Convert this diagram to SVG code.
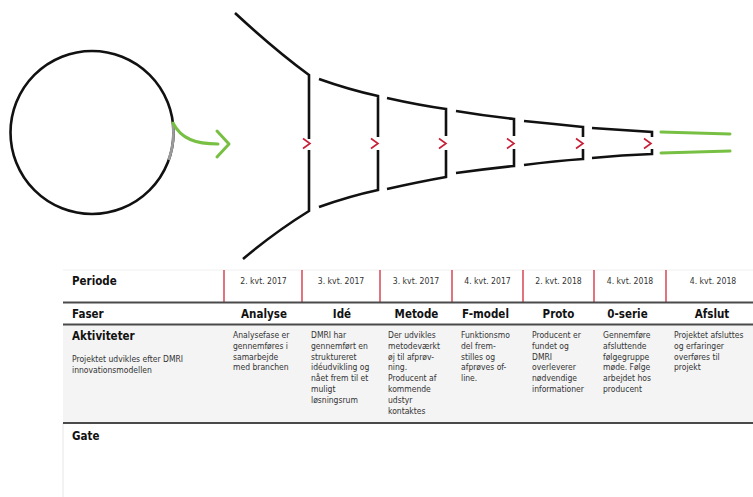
<svg xmlns="http://www.w3.org/2000/svg" width="753" height="497" viewBox="0 0 753 497">
<style>
.fn{fill:none;stroke:#111;stroke-width:2.6;stroke-linecap:butt;stroke-linejoin:miter}
.gr{fill:none;stroke:#77c043;stroke-width:3;stroke-linecap:round;stroke-linejoin:round}
.ch{fill:none;stroke:#c81e35;stroke-width:1.6}
.rl{stroke:#d0293a;stroke-width:1.3}
.sep{stroke:#4a4a4a;stroke-width:2}
.hd{font-family:"DejaVu Sans Condensed","DejaVu Sans",sans-serif;font-weight:bold;font-size:11.5px;fill:#111}
.ph{font-family:"DejaVu Sans Condensed","DejaVu Sans",sans-serif;font-weight:bold;font-size:11.5px;fill:#111;text-anchor:middle}
.pd{font-family:"DejaVu Sans Condensed","DejaVu Sans",sans-serif;font-size:8.6px;fill:#333;text-anchor:middle}
.tx{font-family:"DejaVu Sans Condensed","DejaVu Sans",sans-serif;font-size:8.5px;fill:#333}
</style>
<rect width="753" height="497" fill="#fff"/>

<g id="circle">
<circle cx="92" cy="132.5" r="81.5" fill="none" stroke="#111" stroke-width="2.6"/>
<path d="M172.9,123 A81.5,81.5 0 0 1 168.7,160" fill="none" stroke="#9a9a9a" stroke-width="2.8"/>
</g>

<g id="funnel">
<path class="fn" d="M235,13 Q275,50 309,75 L309,139 M309,150 L309,211 Q275,232 243,259"/>
<path class="fn" d="M319,79 Q350,90 378,96 L378,137 M378,150 L378,190 Q350,196 319,207"/>
<path class="fn" d="M387,98 Q418,105 446,109 L446,136 M446,150 L446,177 Q418,182 387,189"/>
<path class="fn" d="M456,111 Q486,116 514,119 L514,136 M514,149 L514,166 Q486,169 456,173"/>
<path class="fn" d="M524,121 Q555,124 583,127 L583,137 M583,149 L583,159 Q555,161 524,165"/>
<path class="fn" d="M592,128 Q622,130 652,132 L652,137 M652,149 L652,154 Q622,155 592,158"/>
</g>

<g id="connectors">
<path class="gr" d="M173,123 C181,139 196,144 218,144"/>
<path class="gr" d="M217,131 L229,144 L217,157"/>
<path class="gr" d="M661,132 L730,134 M661,153 L730,151"/>
<path class="ch" d="M303,138.5 L310,143.5 L303,148.5"/>
<path class="ch" d="M371,138.5 L378,143.5 L371,148.5"/>
<path class="ch" d="M439,138.5 L446,143.5 L439,148.5"/>
<path class="ch" d="M507,138.5 L514,143.5 L507,148.5"/>
<path class="ch" d="M576,138.5 L583,143.5 L576,148.5"/>
<path class="ch" d="M644,138.5 L651,143.5 L644,148.5"/>
</g>

<g id="table">
<rect x="63" y="324" width="690" height="99" fill="#f4f4f4"/>
<line x1="63" y1="423" x2="63" y2="497" stroke="#e6e6e6" stroke-width="1"/>
<line x1="63" y1="270" x2="753" y2="270" stroke="#f0f0f0" stroke-width="1"/>
<g class="rl">
<line x1="224" y1="270" x2="224" y2="302"/>
<line x1="302" y1="270" x2="302" y2="302"/>
<line x1="380" y1="270" x2="380" y2="302"/>
<line x1="452" y1="270" x2="452" y2="302"/>
<line x1="523" y1="270" x2="523" y2="302"/>
<line x1="594" y1="270" x2="594" y2="302"/>
<line x1="666" y1="270" x2="666" y2="302"/>
</g>
<line class="sep" x1="63" y1="302.5" x2="753" y2="302.5"/>
<line class="sep" x1="63" y1="324.5" x2="753" y2="324.5"/>
<line class="sep" x1="63" y1="423" x2="753" y2="423"/>
</g>

<g id="labels">
<text class="hd" x="72" y="285">Periode</text>
<text class="hd" x="72" y="317.5">Faser</text>
<text class="hd" x="72" y="340">Aktiviteter</text>
<text class="hd" x="72" y="440" style="font-size:11.5px">Gate</text>
<text class="tx" x="72" y="362">Projektet udvikles efter DMRI</text>
<text class="tx" x="72" y="373">innovationsmodellen</text>
</g>

<g id="perioder">
<text class="pd" x="263.5" y="283.5">2. kvt. 2017</text>
<text class="pd" x="341" y="283.5">3. kvt. 2017</text>
<text class="pd" x="416" y="283.5">3. kvt. 2017</text>
<text class="pd" x="487.5" y="283.5">4. kvt. 2017</text>
<text class="pd" x="558.5" y="283.5">2. kvt. 2018</text>
<text class="pd" x="630" y="283.5">4. kvt. 2018</text>
<text class="pd" x="713" y="283.5">4. kvt. 2018</text>
</g>

<g id="faser">
<text class="ph" x="264" y="317.5">Analyse</text>
<text class="ph" x="342" y="317.5">Idé</text>
<text class="ph" x="416.5" y="317.5">Metode</text>
<text class="ph" x="485.5" y="317.5">F-model</text>
<text class="ph" x="558.5" y="317.5">Proto</text>
<text class="ph" x="627.5" y="317.5">0-serie</text>
<text class="ph" x="712" y="317.5">Afslut</text>
</g>

<g id="aktiviteter">
<text class="tx" y="338"><tspan x="233">Analysefase er</tspan><tspan x="233" dy="10.8">gennemføres i</tspan><tspan x="233" dy="10.8">samarbejde</tspan><tspan x="233" dy="10.8">med branchen</tspan></text>
<text class="tx" y="338"><tspan x="311">DMRI har</tspan><tspan x="311" dy="10.8">gennemført en</tspan><tspan x="311" dy="10.8">struktureret</tspan><tspan x="311" dy="10.8">idéudvikling og</tspan><tspan x="311" dy="10.8">nået frem til et</tspan><tspan x="311" dy="10.8">muligt</tspan><tspan x="311" dy="10.8">løsningsrum</tspan></text>
<text class="tx" y="338"><tspan x="388">Der udvikles</tspan><tspan x="388" dy="10.8">metodeværkt</tspan><tspan x="388" dy="10.8">øj til afprøv-</tspan><tspan x="388" dy="10.8">ning.</tspan><tspan x="388" dy="10.8">Producent af</tspan><tspan x="388" dy="10.8">kommende</tspan><tspan x="388" dy="10.8">udstyr</tspan><tspan x="388" dy="10.8">kontaktes</tspan></text>
<text class="tx" y="338"><tspan x="461">Funktionsmo</tspan><tspan x="461" dy="10.8">del frem-</tspan><tspan x="461" dy="10.8">stilles og</tspan><tspan x="461" dy="10.8">afprøves of-</tspan><tspan x="461" dy="10.8">line.</tspan></text>
<text class="tx" y="338"><tspan x="532">Producent er</tspan><tspan x="532" dy="10.8">fundet og</tspan><tspan x="532" dy="10.8">DMRI</tspan><tspan x="532" dy="10.8">overleverer</tspan><tspan x="532" dy="10.8">nødvendige</tspan><tspan x="532" dy="10.8">informationer</tspan></text>
<text class="tx" y="338"><tspan x="603">Gennemføre</tspan><tspan x="603" dy="10.8">afsluttende</tspan><tspan x="603" dy="10.8">følgegruppe</tspan><tspan x="603" dy="10.8">møde. Følge</tspan><tspan x="603" dy="10.8">arbejdet hos</tspan><tspan x="603" dy="10.8">producent</tspan></text>
<text class="tx" y="338"><tspan x="674">Projektet afsluttes</tspan><tspan x="674" dy="10.8">og erfaringer</tspan><tspan x="674" dy="10.8">overføres til</tspan><tspan x="674" dy="10.8">projekt</tspan></text>
</g>
</svg>
